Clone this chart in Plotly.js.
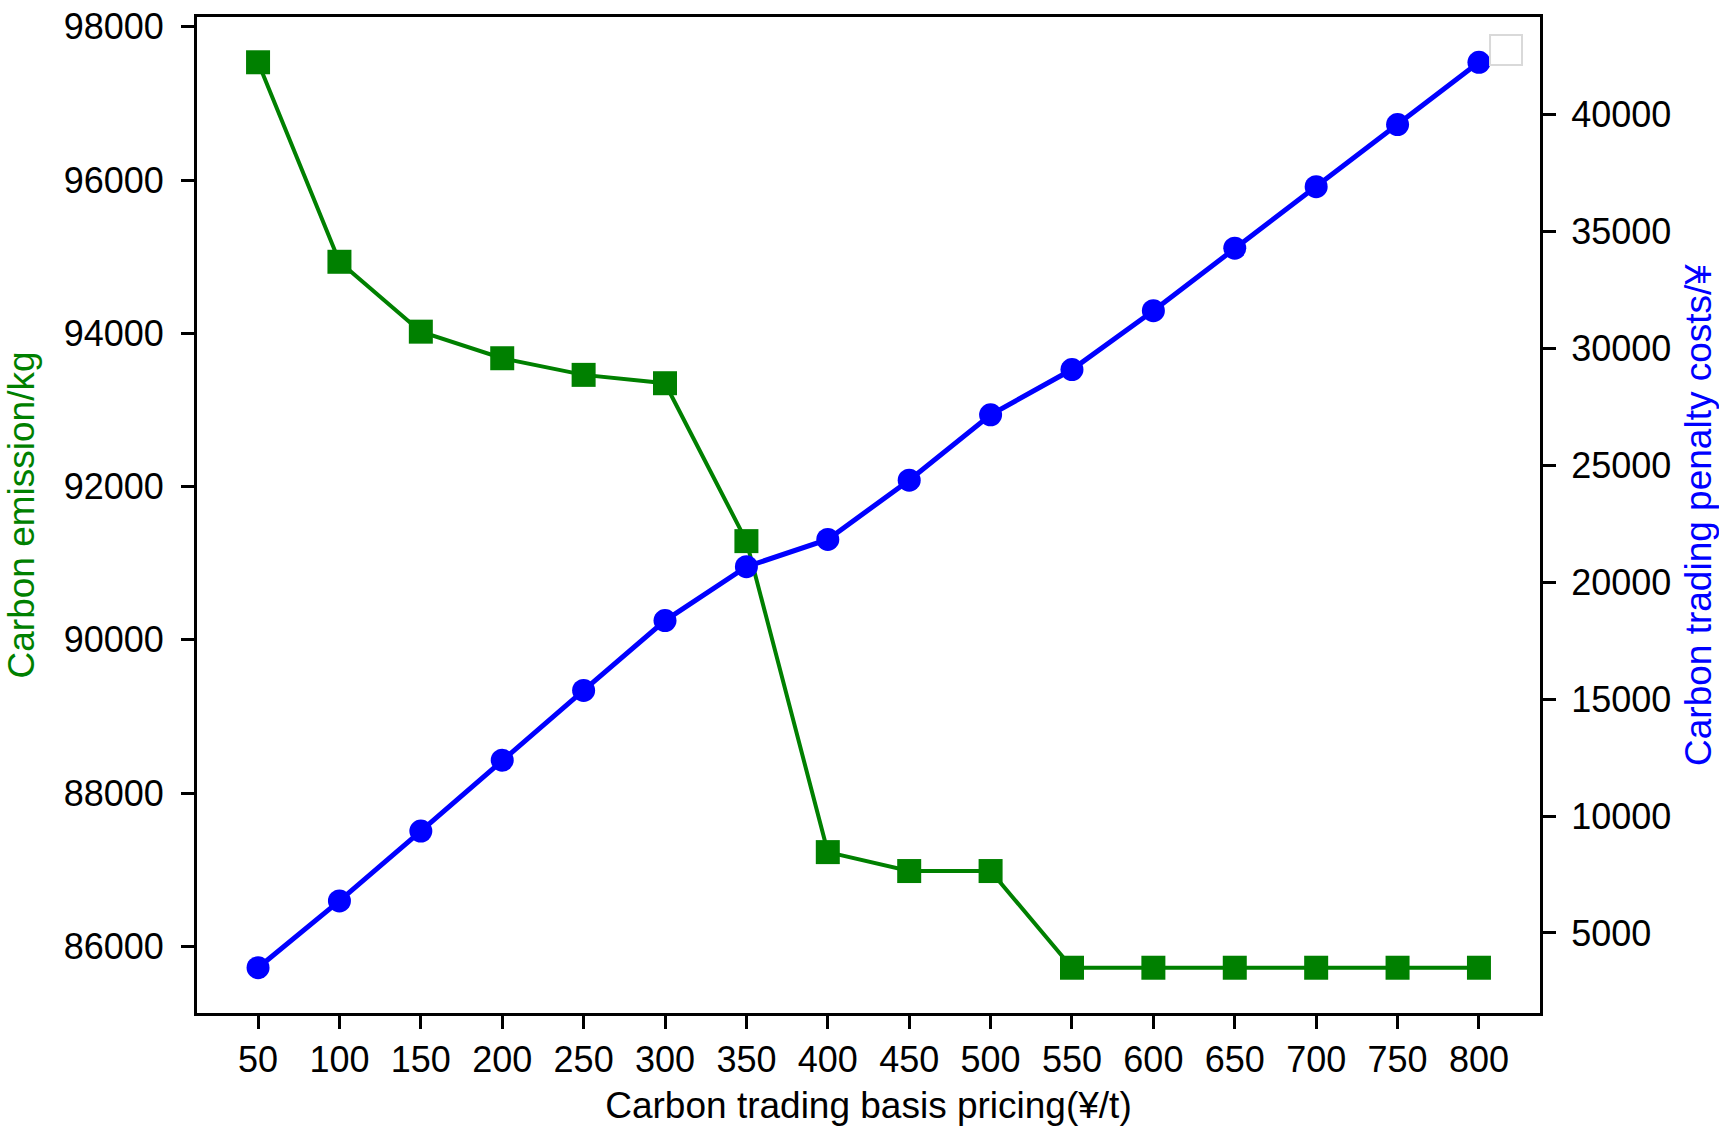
<!DOCTYPE html>
<html>
<head>
<meta charset="utf-8">
<script src="https://cdn.plot.ly/plotly-3.0.1.min.js"></script>
<style>
  html, body { margin: 0; padding: 0; background: #fff; }
  #plot { width: 1719px; height: 1138px; }
</style>
</head>
<body>
<div id="plot"></div>
<script>
// carbon trading basis price (¥/t)
var prices = [50, 100, 150, 200, 250, 300, 350, 400, 450, 500, 550, 600, 650, 700, 750, 800];
// carbon emission (kg), left axis
var emission = [97538, 94934, 94022, 93675, 93458, 93349, 91288, 87229, 86982, 86982,
                85720, 85720, 85720, 85720, 85720, 85720];
// carbon trading penalty costs (¥), right axis
var penalty = [3511, 6369, 9355, 12385, 15371, 18357, 20661, 21826, 24360, 27159,
               29095, 31612, 34283, 36915, 39573, 42235];

var leftTicks = [86000, 88000, 90000, 92000, 94000, 96000, 98000];
var rightTicks = [5000, 10000, 15000, 20000, 25000, 30000, 35000, 40000];

// matplotlib-like 5% padding
function padded(arr) {
  var lo = Math.min.apply(null, arr), hi = Math.max.apply(null, arr);
  var p = (hi - lo) * 0.05;
  return [lo - p, hi + p];
}

var font = "Liberation Sans, Arial, sans-serif";

var trace1 = {
  x: prices,
  y: emission,
  type: "scatter",
  mode: "lines+markers",
  line: {color: "#008000", width: 4},
  marker: {symbol: "square", size: 24, color: "#008000"},
  yaxis: "y",
  showlegend: false
};

var trace2 = {
  x: prices,
  y: penalty,
  type: "scatter",
  mode: "lines+markers",
  line: {color: "#0000ff", width: 5},
  marker: {symbol: "circle", size: 23, color: "#0000ff"},
  yaxis: "y2",
  showlegend: false
};

var axisCommon = {
  showline: true,
  linecolor: "#000",
  linewidth: 3,
  ticks: "outside",
  ticklen: 13,
  tickwidth: 3,
  tickcolor: "#000",
  showgrid: false,
  zeroline: false,
  tickfont: {family: font, size: 36, color: "#000"}
};

var layout = {
  width: 1719,
  height: 1138,
  margin: {l: 197, r: 179, t: 17, b: 125},
  paper_bgcolor: "#fff",
  plot_bgcolor: "#fff",
  font: {family: font},
  xaxis: Object.assign({}, axisCommon, {
    range: padded(prices),
    tickvals: prices,
    mirror: true,
    ticklabelstandoff: 0,
    title: {text: "Carbon trading basis pricing(¥/t)", font: {family: font, size: 37, color: "#000"}, standoff: 13}
  }),
  yaxis: Object.assign({}, axisCommon, {
    range: padded(emission),
    tickvals: leftTicks,
    tickformat: "d",
    ticklabelstandoff: 10,
    title: {text: "Carbon emission/kg", font: {family: font, size: 37, color: "#008000"}, standoff: 18}
  }),
  yaxis2: Object.assign({}, axisCommon, {
    range: padded(penalty),
    tickvals: rightTicks,
    tickformat: "d",
    overlaying: "y",
    side: "right",
    ticklabelstandoff: 8,
    title: {text: "Carbon trading penalty costs/¥", font: {family: font, size: 37, color: "#0000ff"}, standoff: 16}
  }),
  shapes: [{
    // empty legend frame, upper right
    type: "rect", xref: "paper", yref: "paper",
    x0: 0.9628, x1: 0.9866, y0: 0.9518, y1: 0.9819,
    line: {color: "#d9d9d9", width: 2},
    fillcolor: "rgba(255,255,255,0.8)"
  }]
};

Plotly.newPlot("plot", [trace1, trace2], layout, {displayModeBar: false, staticPlot: true});
</script>
</body>
</html>
